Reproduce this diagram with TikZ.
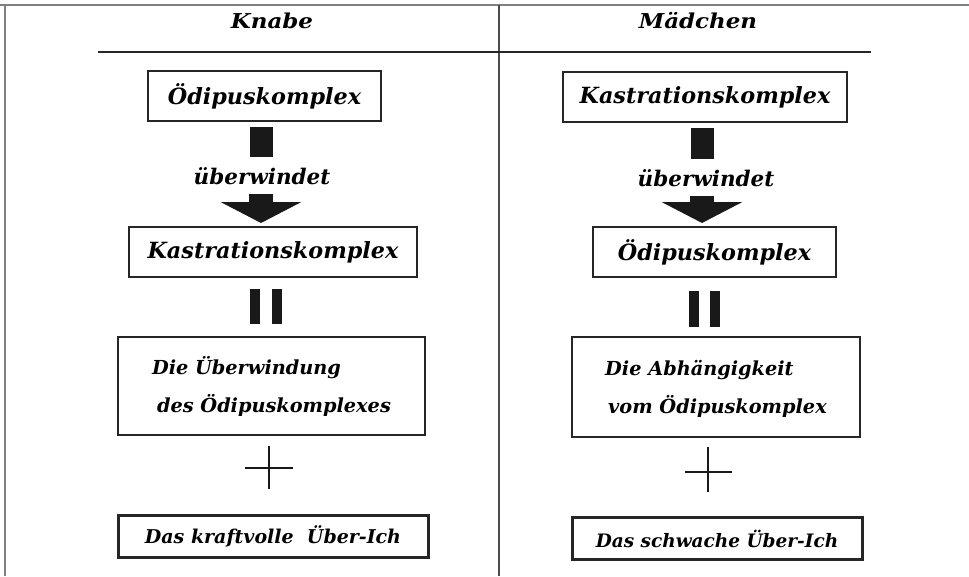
\documentclass[tikz,border=0pt]{standalone}
\usepackage{fontspec}
\setmainfont{DejaVu Serif}
\usetikzlibrary{arrows.meta}
\newcommand\widehead[1]{\scalebox{1.12}[1]{#1}}
\tikzset{
  box/.style={draw=black!85, line width=2pt, minimum height=50pt, inner sep=0pt,
    font=\fontsize{22.3}{25}\selectfont\bfseries\itshape},
  bigbox/.style={draw=black!85, line width=2pt, inner sep=0pt,
    font=\fontsize{19.3}{35}\selectfont\bfseries\itshape},
  endbox/.style={draw=black!85, line width=3pt, inner sep=0pt, minimum height=42pt,
    font=\fontsize{19}{22}\selectfont\bfseries\itshape},
  verb/.style={font=\fontsize{21.5}{24}\selectfont\bfseries\itshape},
  head/.style={font=\fontsize{20.5}{23}\selectfont\bfseries\itshape},
  stem/.style={black!90, line width=23pt},
  bigarrow/.style={black!90, line width=24pt, -{Triangle[width=80pt,length=21pt]}},
  eqbar/.style={black!90, line width=10pt},
  plusbar/.style={black!90, line width=2.6pt},
  frame/.style={black!50, line width=2pt},
  rule/.style={black!85, line width=1.4pt}
}
\begin{document}
\begin{tikzpicture}[x=1pt, y=-1pt]
\useasboundingbox (0,0) rectangle (969,576);

% frame and column divider
\draw[frame] (0,5) -- (969,5);
\draw[frame] (5,5) -- (5,576);
\draw[black!70, line width=1.5pt] (499,5) -- (499,576);
\draw[rule] (98,52) -- (871,52);

% column headings
\node[head] (hk) at (272,21) {\widehead{Knabe}};
\node[head] (hm) at (698,21) {\widehead{Mädchen}};

% ---------- left column ----------
\node[box, minimum width=233pt] (l1) at (264.5,96) {Ödipuskomplex};
\node[verb] (lv) at (262,176) {überwindet};
\node[box, minimum width=288pt] (l2) at (273,252) {Kastrationskomplex};
\node[bigbox, minimum width=307pt, minimum height=98pt] (l3) at (271.5,386)
  {\begin{tabular}{@{}l@{}}Die Überwindung\\[3pt]\hspace*{5pt}des Ödipuskomplexes\end{tabular}};
\node[endbox, minimum width=310pt] (l4) at (273,536) {Das kraftvolle\ \ Über-Ich};

\coordinate (lx) at (261,0);
\draw[stem, shorten <=5pt, shorten >=7pt] (l1.south -| lx) -- (lv.north -| lx);
\draw[bigarrow, shorten <=6pt, shorten >=3pt] (lv.south -| lx) -- (l2.north -| lx);
\draw[eqbar, shorten <=11pt, shorten >=12pt] ([xshift=-6pt]l2.south -| lx) -- ([xshift=-6pt]l3.north -| lx);
\draw[eqbar, shorten <=11pt, shorten >=12pt] ([xshift=16pt]l2.south -| lx) -- ([xshift=16pt]l3.north -| lx);
\coordinate (lp) at (269,468);
\draw[plusbar] ([xshift=-24pt]lp) -- ([xshift=24pt]lp);
\draw[plusbar] ([yshift=-21pt]lp) -- ([yshift=22pt]lp);

% ---------- right column ----------
\node[box, minimum width=284pt] (r1) at (705,97) {Kastrationskomplex};
\node[verb] (rv) at (706,178) {überwindet};
\node[box, minimum width=243pt] (r2) at (714.5,252) {Ödipuskomplex};
\node[bigbox, minimum width=288pt, minimum height=100pt] (r3) at (716,387)
  {\begin{tabular}{@{}l@{}}Die Abhängigkeit\\[3pt]\hspace*{3pt}vom Ödipuskomplex\end{tabular}};
\node[endbox, minimum width=290pt, font=\fontsize{18.5}{22}\selectfont\bfseries\itshape] (r4) at (717,538.5) {Das schwache Über-Ich};

\coordinate (rx) at (702,0);
\draw[stem, shorten <=5pt, shorten >=7pt] (r1.south -| rx) -- (rv.north -| rx);
\draw[bigarrow, shorten <=6pt, shorten >=3pt] (rv.south -| rx) -- (r2.north -| rx);
\draw[eqbar, shorten <=13pt, shorten >=9pt] ([xshift=-8.5pt]r2.south -| rx) -- ([xshift=-8.5pt]r3.north -| rx);
\draw[eqbar, shorten <=13pt, shorten >=9pt] ([xshift=12.5pt]r2.south -| rx) -- ([xshift=12.5pt]r3.north -| rx);
\coordinate (rp) at (708,472);
\draw[plusbar] ([xshift=-23pt]rp) -- ([xshift=24pt]rp);
\draw[plusbar] ([yshift=-20pt]rp) -- ([yshift=25pt]rp);
\end{tikzpicture}
\end{document}
